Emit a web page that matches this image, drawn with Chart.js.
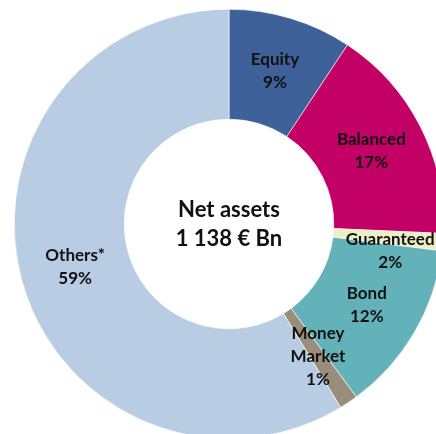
<!DOCTYPE html>
<html>
<head>
<meta charset="utf-8">
<script src="https://cdn.jsdelivr.net/npm/chart.js@4"></script>
<style>
  html, body { margin: 0; padding: 0; background: #fff; overflow: hidden; width: 436px; height: 434px; }
  #wrap { position: absolute; left: 14px; top: 9px; width: 430px; height: 430px; }
</style>
</head>
<body>
<div id="wrap"><canvas id="myChart" width="430" height="430"></canvas></div>
<script>
// share of net assets
var categories = ["Equity", "Balanced", "Guaranteed", "Bond", "Money Market", "Others*"];
var shares = [9.3, 16.4, 1.3, 12.9, 1.4, 58.7];
var shareLabels = ["9%", "17%", "2%", "12%", "1%", "59%"];
var sliceLines = [["Equity"], ["Balanced"], ["Guaranteed"], ["Bond"], ["Money", "Market"], ["Others*"]];
var colors = ["#3E6199", "#C30066", "#EEEEC6", "#63B2BA", "#9B8D7B", "#B8CCE4"];
var centerLines = ["Net assets", "1 138 \u20ac Bn"];

// labels inside each slice + the text in the hole
var labelPlugin = {
	id: "labelPlugin",
	afterDraw: function(chart){
		var ctx = chart.ctx;
		var arcs = chart.getDatasetMeta(0).data;
		ctx.save();
		ctx.fillStyle = "#111";
		ctx.textAlign = "center";
		ctx.textBaseline = "middle";
		ctx.font = "bold 17px Lato";
		var lh = 23;
		arcs.forEach(function(arc, i){
			var p = arc.tooltipPosition();
			var x = p.x, y = p.y;
			// the thin Guaranteed slice has its label pushed down a bit
			if (i == 2) { x += 2; y += 13; }
			var lines = sliceLines[i].concat([shareLabels[i]]);
			var y0 = y - (lines.length - 1) * lh / 2;
			lines.forEach(function(t, j){
				ctx.fillText(t, x, y0 + j * lh);
			});
		});
		// center
		var a = arcs[0];
		ctx.font = "bold 22px Lato";
		ctx.fillText(centerLines[0], a.x, a.y - 14);
		ctx.fillText(centerLines[1], a.x, a.y + 15);
		ctx.restore();
	}
};

var myChart = document.getElementById("myChart").getContext('2d');
var chart = new Chart(myChart, {
	type: "doughnut",
	data: {
		labels: categories,
		datasets: [
			{
				data: shares,
				backgroundColor: colors,
				borderColor: "#ffffff",
				borderWidth: 0.6
			}
		]
	},
	options: {
		responsive: false,
		animation: false,
		cutout: "48.8%",
		layout: { padding: 0 },
		plugins: {
			legend: { display: false },
			tooltip: { enabled: false }
		}
	},
	plugins: [labelPlugin]
});
</script>
</body>
</html>
